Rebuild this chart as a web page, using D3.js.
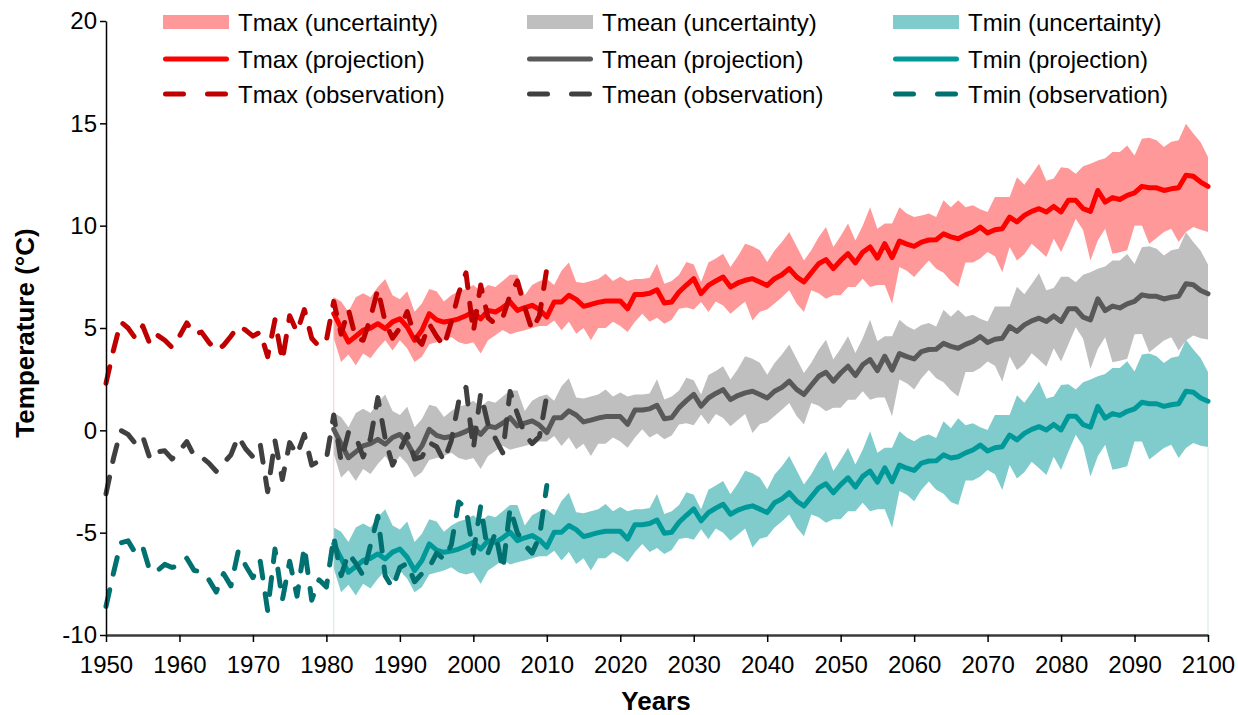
<!DOCTYPE html>
<html><head><meta charset="utf-8">
<script src="https://cdn.jsdelivr.net/npm/d3@7"></script>
<style>body{margin:0;background:#fff}text{font-family:Arial,"Liberation Sans",sans-serif}</style>
</head><body><svg id="c" width="1238" height="715"></svg>
<script>
const obsStartYear = 1950;
const projStartYear = 1981;
const xTicks = [1950,1960,1970,1980,1990,2000,2010,2020,2030,2040,2050,2060,2070,2080,2090,2100];
const yTicks = [-10,-5,0,5,10,15,20];
const seriesNames = ["Tmax","Tmean","Tmin"];
const legendKinds = ["uncertainty","projection","observation"];

const tmaxObs = [2.3,3.9,5.3,5.0,4.5,5.1,4.2,4.65,4.4,4.05,
 4.6,5.25,4.7,4.8,4.3,3.9,4.15,4.6,5.1,4.9,
 4.6,4.8,3.6,5.4,3.4,5.6,4.8,5.9,4.5,4.1,
 4.4,6.3,4.7,5.9,4.5,4.4,5.5,6.9,5.3,4.5,
 5.0,5.8,4.6,4.2,5.2,4.6,4.1,5.3,6.7,7.7,
 4.8,7.1,5.5,5.2,5.5,6.6,7.3,6.0,4.9,5.6,7.9];
const tmeanObs = [-3.1,-1.4,0.0,-0.2,-0.65,-0.3,-1.4,-1.05,-1.0,-1.4,
 -1.0,-0.55,-1.25,-1.3,-1.6,-2.0,-1.6,-1.2,-0.3,-0.9,
 -1.3,-0.7,-3.0,-0.5,-2.4,-0.6,-1.2,-0.2,-1.7,-1.5,
 -1.4,0.75,-1.5,-0.1,-0.3,-1.3,-0.4,1.6,-0.4,-1.7,
 -1.0,-0.2,-1.4,-1.3,-0.6,-0.8,-1.5,-0.5,1.4,2.1,
 -0.9,1.8,0.3,-0.4,-1.1,1.9,0.8,-0.2,-0.65,-0.3,1.7];
const tminObs = [-8.6,-7.0,-5.5,-5.4,-6.0,-5.7,-6.9,-6.85,-6.55,-6.7,
 -6.6,-6.25,-6.85,-6.9,-7.3,-7.9,-7.0,-7.6,-5.9,-6.6,
 -7.2,-6.4,-8.8,-5.8,-8.3,-6.4,-8.1,-5.7,-8.3,-7.3,
 -7.65,-5.2,-7.1,-6.0,-6.5,-7.1,-5.6,-4.2,-7.1,-7.7,
 -6.7,-6.5,-7.4,-7.0,-6.7,-6.0,-6.3,-5.6,-3.5,-3.8,
 -6.0,-3.7,-6.0,-5.0,-6.8,-3.8,-5.0,-5.6,-6.0,-5.2,-2.7];

const tmaxProj = [5.70,5.00,4.31,4.60,4.89,5.00,5.21,4.97,5.30,5.45,
 5.05,4.40,4.89,5.70,5.40,5.29,5.35,5.45,5.60,5.78,
 5.45,5.86,5.78,6.00,6.27,5.86,6.00,6.11,5.90,5.54,
 6.27,6.27,6.60,6.40,6.06,6.15,6.25,6.32,6.32,6.32,
 5.94,6.64,6.64,6.70,6.87,6.22,6.27,6.76,7.10,7.41,
 6.68,7.08,7.30,7.49,7.00,7.20,7.33,7.41,7.25,7.08,
 7.41,7.60,7.90,7.50,7.25,7.70,8.14,8.34,7.90,8.30,
 8.63,8.18,8.70,8.96,8.42,9.12,8.44,9.25,9.10,8.99,
 9.20,9.30,9.31,9.60,9.45,9.36,9.55,9.69,9.93,9.64,
 9.80,9.85,10.42,10.18,10.50,10.70,10.83,10.67,10.94,10.67,
 11.24,11.24,10.83,10.70,11.72,11.15,11.37,11.28,11.48,11.60,
 11.92,11.85,11.85,11.72,11.80,11.85,12.46,12.41,12.13,11.92];
const tmeanProj = [0.05,-0.65,-1.34,-1.05,-0.76,-0.65,-0.44,-0.68,-0.35,-0.20,
 -0.60,-1.25,-0.76,0.05,-0.25,-0.36,-0.30,-0.20,-0.05,0.13,
 -0.20,0.21,0.13,0.35,0.62,0.21,0.35,0.46,0.25,-0.11,
 0.62,0.62,0.95,0.75,0.41,0.50,0.60,0.67,0.67,0.67,
 0.29,0.99,0.99,1.05,1.22,0.57,0.62,1.11,1.45,1.76,
 1.18,1.58,1.80,1.99,1.50,1.70,1.83,1.91,1.75,1.58,
 1.91,2.10,2.40,2.00,1.75,2.20,2.64,2.84,2.40,2.80,
 3.13,2.68,3.20,3.46,2.92,3.62,2.94,3.75,3.60,3.49,
 3.85,3.95,3.96,4.25,4.10,4.01,4.20,4.34,4.58,4.29,
 4.45,4.50,5.07,4.83,5.15,5.35,5.48,5.32,5.59,5.32,
 5.94,5.94,5.53,5.40,6.42,5.85,6.07,5.98,6.18,6.30,
 6.62,6.55,6.55,6.42,6.50,6.55,7.16,7.11,6.83,6.67];
const tminProj = [-5.55,-6.25,-6.94,-6.65,-6.36,-6.25,-6.04,-6.28,-5.95,-5.80,
 -6.20,-6.85,-6.36,-5.55,-5.85,-5.96,-5.90,-5.80,-5.65,-5.47,
 -5.80,-5.39,-5.47,-5.25,-4.98,-5.39,-5.25,-5.14,-5.35,-5.71,
 -4.98,-4.98,-4.65,-4.85,-5.19,-5.10,-5.00,-4.93,-4.93,-4.93,
 -5.31,-4.61,-4.61,-4.55,-4.38,-5.03,-4.98,-4.49,-4.15,-3.84,
 -4.42,-4.02,-3.80,-3.61,-4.10,-3.90,-3.77,-3.69,-3.85,-4.02,
 -3.54,-3.35,-3.05,-3.45,-3.70,-3.25,-2.81,-2.61,-3.05,-2.65,
 -2.32,-2.77,-2.25,-1.99,-2.53,-1.83,-2.51,-1.70,-1.85,-1.96,
 -1.60,-1.50,-1.49,-1.20,-1.35,-1.29,-1.10,-0.96,-0.72,-1.01,
 -0.85,-0.80,-0.23,-0.47,-0.15,0.05,0.18,0.02,0.29,0.02,
 0.69,0.69,0.28,0.15,1.17,0.60,0.82,0.73,0.93,1.05,
 1.37,1.30,1.30,1.17,1.25,1.30,1.91,1.86,1.58,1.42];

const tmaxHigh = [6.5,6.3,5.8,6.5,6.7,6.5,7.0,7.4,6.6,6.4,
 6.8,5.8,6.2,6.9,6.8,6.3,6.6,6.8,6.9,7.1,
 6.8,7.1,7.0,7.3,7.6,7.6,6.6,7.1,7.3,7.4,
 7.1,7.8,8.2,7.25,7.2,7.3,7.4,7.65,7.3,7.5,
 7.3,7.4,7.4,7.45,8.14,7.16,7.3,7.6,8.22,8.1,
 7.25,8.2,8.4,8.63,7.98,8.5,9.12,9.0,8.8,8.22,
 8.79,9.2,9.69,9.0,8.3,8.8,9.44,9.93,8.96,9.5,
 10.1,9.28,10.0,10.9,9.85,10.1,10.1,10.9,10.6,10.42,
 10.5,10.6,10.42,11.24,10.9,11.24,10.9,11.0,10.8,10.67,
 11.4,11.4,11.4,12.37,12.0,12.5,13.03,12.2,12.3,12.86,
 12.8,12.54,12.9,13.03,13.19,13.3,13.6,13.6,13.92,13.43,
 14.25,14.3,14.17,13.84,14.1,14.17,14.98,14.5,14.08,13.35];
const tmaxLow = [4.5,3.34,3.7,3.18,3.76,3.52,4.0,4.4,3.9,4.4,
 4.0,3.34,3.6,4.2,4.3,4.4,4.56,4.3,4.2,4.3,
 3.76,4.4,4.64,4.9,4.7,4.8,4.89,5.0,5.1,5.1,
 5.37,4.89,5.3,4.72,5.0,4.4,5.0,5.0,5.3,5.1,
 4.8,5.3,5.7,5.3,5.5,5.21,5.4,5.94,6.0,5.9,
 6.27,5.78,6.3,6.1,5.7,6.0,6.3,5.37,5.8,5.9,
 6.2,6.5,6.84,6.2,5.78,6.84,6.7,6.43,6.6,6.6,
 7.0,7.0,7.41,7.0,7.1,7.1,6.19,7.98,7.8,7.49,
 7.9,8.3,7.9,7.7,7.3,7.0,8.2,8.2,8.4,8.71,
 8.5,7.73,8.96,8.3,8.6,9.12,8.8,8.47,9.36,8.71,
 9.5,10.34,9.77,8.3,9.28,9.85,8.63,8.7,8.8,10.0,
 10.01,9.12,9.4,9.69,9.85,9.2,9.69,9.93,9.8,9.69];
const tmeanHigh = [0.85,0.65,0.15,0.85,1.05,0.85,1.35,1.75,0.95,0.75,
 1.15,0.15,0.55,1.25,1.15,0.65,0.95,1.15,1.25,1.45,
 1.15,1.45,1.35,1.65,1.95,1.95,0.95,1.45,1.65,1.75,
 1.45,2.15,2.55,1.6,1.55,1.65,1.75,2.0,1.65,1.85,
 1.65,1.75,1.75,1.8,2.49,1.51,1.65,1.95,2.57,2.45,
 1.75,2.7,2.9,3.13,2.48,3.0,3.62,3.5,3.3,2.72,
 3.29,3.7,4.19,3.5,2.8,3.3,3.94,4.43,3.46,4.0,
 4.6,3.78,4.5,5.4,4.35,4.6,4.6,5.4,5.1,4.92,
 5.15,5.25,5.07,5.89,5.55,5.89,5.55,5.65,5.45,5.32,
 6.05,6.05,6.05,7.02,6.65,7.15,7.68,6.85,6.95,7.51,
 7.5,7.24,7.6,7.73,7.89,8.0,8.3,8.3,8.62,8.13,
 8.95,9.0,8.87,8.54,8.8,8.87,9.68,9.2,8.78,8.1];
const tmeanLow = [-1.15,-2.31,-1.95,-2.47,-1.89,-2.13,-1.65,-1.25,-1.75,-1.25,
 -1.65,-2.31,-2.05,-1.45,-1.35,-1.25,-1.09,-1.35,-1.45,-1.35,
 -1.89,-1.25,-1.01,-0.75,-0.95,-0.85,-0.76,-0.65,-0.55,-0.55,
 -0.28,-0.76,-0.35,-0.93,-0.65,-1.25,-0.65,-0.65,-0.35,-0.55,
 -0.85,-0.35,0.05,-0.35,-0.15,-0.44,-0.25,0.29,0.35,0.25,
 0.77,0.28,0.8,0.6,0.2,0.5,0.8,-0.13,0.3,0.4,
 0.7,1.0,1.34,0.7,0.28,1.34,1.2,0.93,1.1,1.1,
 1.5,1.5,1.91,1.5,1.6,1.6,0.69,2.48,2.3,1.99,
 2.55,2.95,2.55,2.35,1.95,1.65,2.85,2.85,3.05,3.36,
 3.15,2.38,3.61,2.95,3.25,3.77,3.45,3.12,4.01,3.36,
 4.2,5.04,4.47,3.0,3.98,4.55,3.33,3.4,3.5,4.7,
 4.71,3.82,4.1,4.39,4.55,3.9,4.39,4.63,4.5,4.44];
const tminHigh = [-4.75,-4.95,-5.45,-4.75,-4.55,-4.75,-4.25,-3.85,-4.65,-4.85,
 -4.45,-5.45,-5.05,-4.35,-4.45,-4.95,-4.65,-4.45,-4.35,-4.15,
 -4.45,-4.15,-4.25,-3.95,-3.65,-3.65,-4.65,-4.15,-3.95,-3.85,
 -4.15,-3.45,-3.05,-4.0,-4.05,-3.95,-3.85,-3.6,-3.95,-3.75,
 -3.95,-3.85,-3.85,-3.8,-3.11,-4.09,-3.95,-3.65,-3.03,-3.15,
 -3.85,-2.9,-2.7,-2.47,-3.12,-2.6,-1.98,-2.1,-2.3,-2.88,
 -2.16,-1.75,-1.26,-1.95,-2.65,-2.15,-1.51,-1.02,-1.99,-1.45,
 -0.85,-1.67,-0.95,-0.05,-1.1,-0.85,-0.85,-0.05,-0.35,-0.53,
 -0.3,-0.2,-0.38,0.44,0.1,0.59,0.25,0.35,0.15,0.02,
 0.75,0.75,0.75,1.72,1.35,1.85,2.38,1.55,1.65,2.21,
 2.25,1.99,2.35,2.48,2.64,2.75,3.05,3.05,3.37,2.88,
 3.7,3.75,3.62,3.29,3.55,3.62,4.43,3.95,3.53,2.85];
const tminLow = [-6.75,-7.91,-7.55,-8.07,-7.49,-7.73,-7.25,-6.85,-7.35,-6.85,
 -7.25,-7.91,-7.65,-7.05,-6.95,-6.85,-6.69,-6.95,-7.05,-6.95,
 -7.49,-6.85,-6.61,-6.35,-6.55,-6.45,-6.36,-6.25,-6.15,-6.15,
 -5.88,-6.36,-5.95,-6.53,-6.25,-6.85,-6.25,-6.25,-5.95,-6.15,
 -6.45,-5.95,-5.55,-5.95,-5.75,-6.04,-5.85,-5.31,-5.25,-5.35,
 -4.83,-5.32,-4.8,-5.0,-5.4,-5.1,-4.8,-5.73,-5.3,-5.2,
 -4.75,-4.45,-4.11,-4.75,-5.17,-4.11,-4.25,-4.52,-4.35,-4.35,
 -3.95,-3.95,-3.54,-3.95,-3.85,-3.85,-4.76,-2.97,-3.15,-3.46,
 -2.9,-2.5,-2.9,-3.1,-3.5,-3.65,-2.45,-2.45,-2.25,-1.94,
 -2.15,-2.92,-1.69,-2.35,-2.05,-1.53,-1.85,-2.18,-1.29,-1.94,
 -1.05,-0.21,-0.78,-2.25,-1.27,-0.7,-1.92,-1.85,-1.75,-0.55,
 -0.54,-1.43,-1.15,-0.86,-0.7,-1.35,-0.86,-0.62,-0.75,-0.81];

const series = [
  {name:"Tmax", band:"#FF9999", line:"#FF0000", obsColor:"#C00000", obs:tmaxObs, proj:tmaxProj, lo:tmaxLow, hi:tmaxHigh},
  {name:"Tmean", band:"#BFBFBF", line:"#595959", obsColor:"#404040", obs:tmeanObs, proj:tmeanProj, lo:tmeanLow, hi:tmeanHigh},
  {name:"Tmin", band:"#80CCCC", line:"#009999", obsColor:"#007070", obs:tminObs, proj:tminProj, lo:tminLow, hi:tminHigh}
];

const svg = d3.select("#c");
svg.append("rect").attr("width",1238).attr("height",715).attr("fill","#fff");
const x = d3.scaleLinear().domain([1950,2100]).range([106,1208]);
const y = d3.scaleLinear().domain([-10,20]).range([635,21]);

const DASH = "17,16";
const plot = svg.append("g");

series.forEach(s=>{
  const area = d3.area()
    .x((d,i)=>x(projStartYear+i))
    .y0((d,i)=>y(s.lo[i]))
    .y1((d,i)=>y(s.hi[i]));
  plot.append("path").datum(s.proj).attr("d",area).attr("fill",s.band);
});
const n = tmaxProj.length;
plot.append("line").attr("x1",x(projStartYear)).attr("x2",x(projStartYear))
  .attr("y1",y(tmaxHigh[0])).attr("y2",y(tminLow[0])).attr("stroke","#f3cccc").attr("stroke-width",1);
plot.append("line").attr("x1",x(projStartYear)).attr("x2",x(projStartYear))
  .attr("y1",y(tminLow[0])).attr("y2",y(-10)).attr("stroke","#cfe6e6").attr("stroke-width",1);
plot.append("line").attr("x1",x(projStartYear+n-1)).attr("x2",x(projStartYear+n-1))
  .attr("y1",y(tminLow[n-1])).attr("y2",y(-10)).attr("stroke","#cfe9ea").attr("stroke-width",1);

series.forEach(s=>{
  const line = d3.line().x((d,i)=>x(projStartYear+i)).y(d=>y(d));
  plot.append("path").datum(s.proj).attr("d",line).attr("fill","none")
    .attr("stroke",s.line).attr("stroke-width",5).attr("stroke-linejoin","round").attr("stroke-linecap","round");
});
series.forEach(s=>{
  const line = d3.line().x((d,i)=>x(obsStartYear+i)).y(d=>y(d));
  plot.append("path").datum(s.obs).attr("d",line).attr("fill","none")
    .attr("stroke",s.obsColor).attr("stroke-width",5).attr("stroke-linejoin","round")
    .attr("stroke-linecap","round").attr("stroke-dasharray",DASH);
});

const fmt = d => String(d);
const yAxis = svg.append("g").attr("transform",`translate(${x(1950)},0)`)
  .call(d3.axisLeft(y).tickValues(yTicks).tickSize(6).tickSizeOuter(0).tickPadding(3).tickFormat(fmt));
yAxis.select(".domain").attr("stroke","#000").attr("stroke-width",1.5);
yAxis.selectAll(".tick line").attr("stroke","#000").attr("stroke-width",1.5);
yAxis.selectAll(".tick text").attr("font-size",24).attr("fill","#000").attr("font-family","Arial, 'Liberation Sans', sans-serif");

const xAxis = svg.append("g").attr("transform",`translate(0,${y(-10)})`)
  .call(d3.axisBottom(x).tickValues(xTicks).tickSize(7).tickSizeOuter(0).tickPadding(14).tickFormat(fmt));
xAxis.select(".domain").attr("stroke","#3a3a3a").attr("stroke-width",2.5);
xAxis.selectAll(".tick line").attr("stroke","#000").attr("stroke-width",1.5);
xAxis.selectAll(".tick text").attr("font-size",24).attr("fill","#000").attr("font-family","Arial, 'Liberation Sans', sans-serif");

svg.append("text").attr("x",656).attr("y",710).attr("text-anchor","middle")
  .attr("font-size",26).attr("font-weight","bold").text("Years");
svg.append("text").attr("transform","translate(34,333) rotate(-90)").attr("text-anchor","middle")
  .attr("font-size",26).attr("font-weight","bold").text("Temperature (°C)");

const colX = [163,527,893];
const rowY = [22,59,94];
series.forEach((s,ci)=>{
  const g = svg.append("g").attr("transform",`translate(${colX[ci]},0)`);
  legendKinds.forEach((k,ri)=>{
    const cy = rowY[ri];
    if(ri===0){
      g.append("rect").attr("x",0).attr("y",cy-7).attr("width",66).attr("height",14).attr("fill",s.band);
    } else if(ri===1){
      g.append("line").attr("x1",2.5).attr("x2",63.5).attr("y1",cy).attr("y2",cy)
        .attr("stroke",s.line).attr("stroke-width",5).attr("stroke-linecap","round");
    } else {
      g.append("line").attr("x1",2.5).attr("x2",63.5).attr("y1",cy).attr("y2",cy)
        .attr("stroke",s.obsColor).attr("stroke-width",5).attr("stroke-linecap","round")
        .attr("stroke-dasharray","18,24");
    }
    g.append("text").attr("x",75).attr("y",cy+8.5).attr("font-size",24).attr("fill","#000")
      .text(`${s.name} (${k})`);
  });
});
</script></body></html>
